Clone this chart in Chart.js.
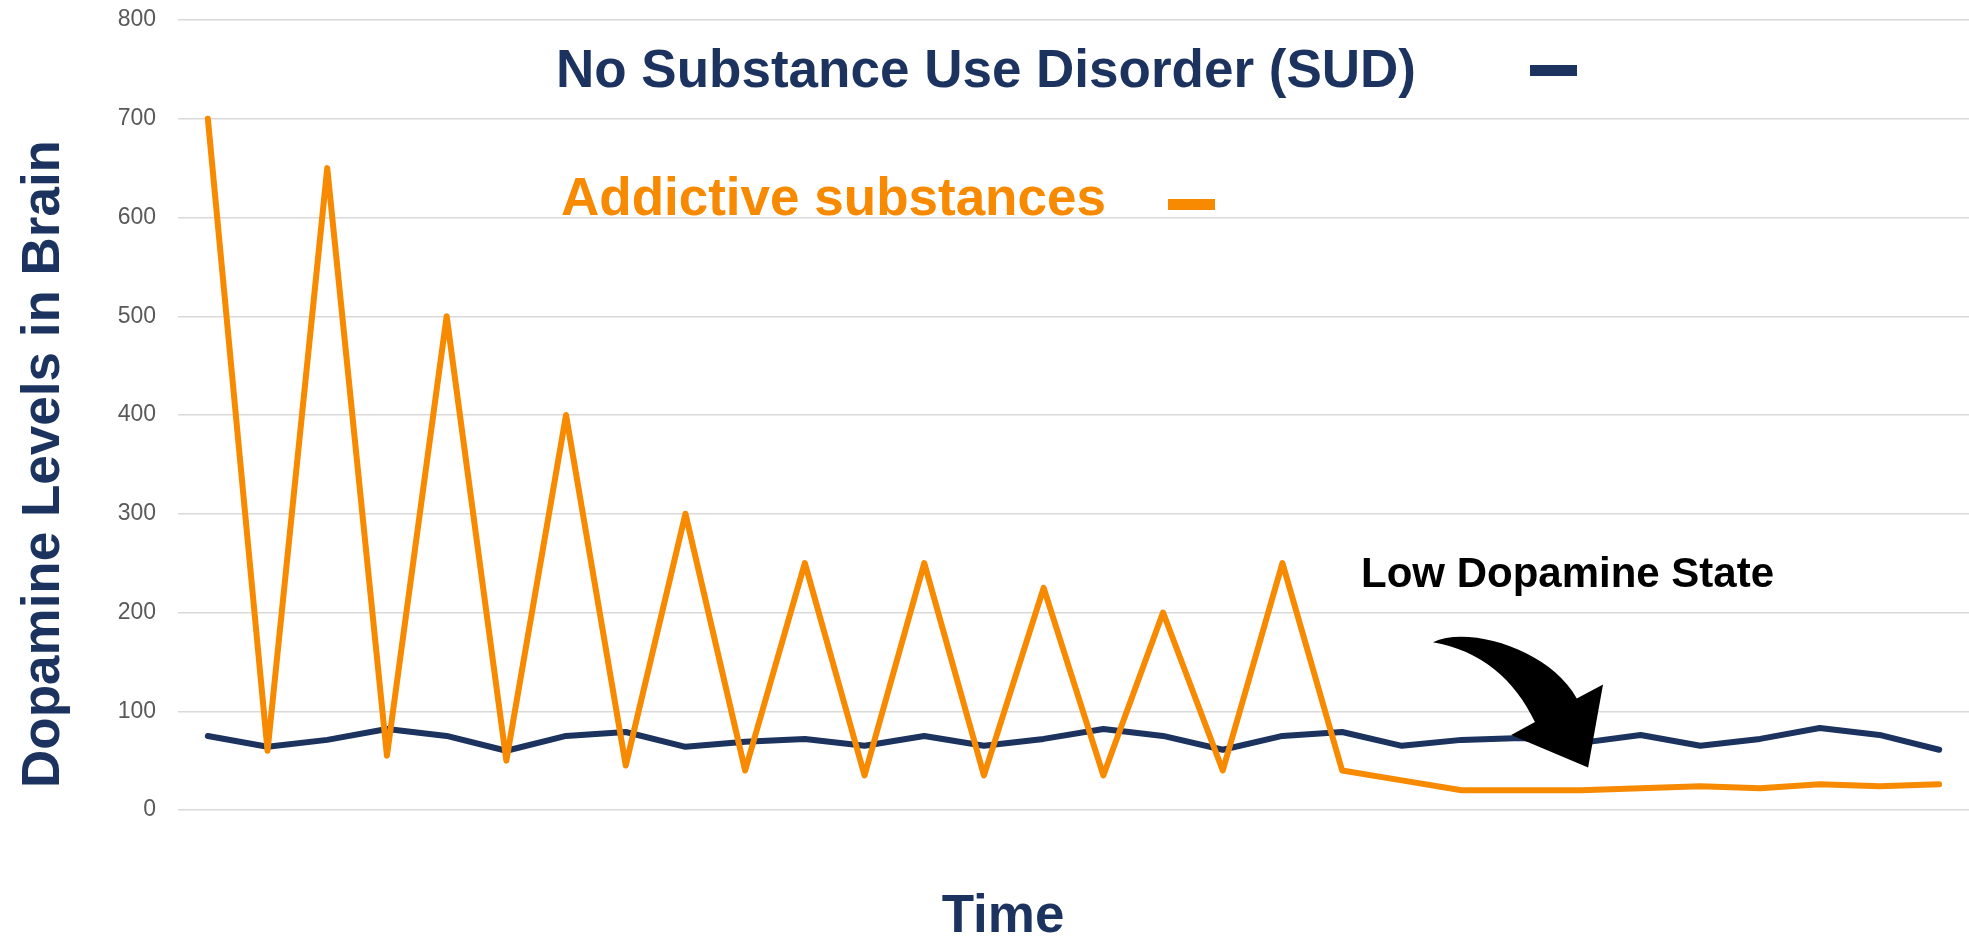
<!DOCTYPE html>
<html>
<head>
<meta charset="utf-8">
<title>Dopamine Levels in Brain</title>
<script src="https://cdn.jsdelivr.net/npm/chart.js@4.4.1/dist/chart.umd.min.js"></script>
<style>
  html, body { margin: 0; padding: 0; background: #fff; }
  #wrap { width: 1969px; height: 940px; }
</style>
</head>
<body>
<div id="wrap"><canvas id="chart" width="1969" height="940"></canvas></div>
<script>
// --- Data ---
const timeSteps = [1, 2, 3, 4, 5, 6, 7, 8, 9, 10, 11, 12, 13, 14, 15,
                   16, 17, 18, 19, 20, 21, 22, 23, 24, 25, 26, 27, 28, 29, 30];
const addictiveSubstances = [700, 60, 650, 55, 500, 50, 400, 45, 300, 40,
                             250, 35, 250, 35, 225, 35, 200, 40, 250, 40,
                             30, 20, 20, 20, 22, 24, 22, 26, 24, 26];
const noSUD = [75, 64, 71, 82, 75, 60, 75, 79, 64, 69,
               72, 65, 75, 65, 72, 82, 75, 61, 75, 79,
               65, 71, 73, 68, 76, 65, 72, 83, 76, 61];
const yTicks = [0, 100, 200, 300, 400, 500, 600, 700, 800];

// arrow outline in data units (time index, dopamine level)
const arrowTail = [20.52, 170];
const arrowOuter = [[21.14, 187], [22.48, 162], [22.93, 113]];
const arrowHead = [[23.37, 127], [23.12, 43], [21.83, 76], [22.23, 89]];
const arrowInner = [[21.90, 132], [21.31, 162]];

// --- Styles ---
const NAVY = '#1b335e';
const ORANGE = '#f78a00';
const FONT = '"Liberation Sans", Arial, sans-serif';

// Text labels, legend dashes and the curved arrow
const annotations = {
    id: 'annotations',
    afterDatasetsDraw(chart) {
        const { ctx, scales: { x, y } } = chart;
        const px = (p) => [x.getPixelForValue(p[0]), y.getPixelForValue(p[1])];

        ctx.save();

        // curved arrow
        ctx.fillStyle = '#000';
        ctx.beginPath();
        ctx.moveTo(...px(arrowTail));
        ctx.bezierCurveTo(...px(arrowOuter[0]), ...px(arrowOuter[1]), ...px(arrowOuter[2]));
        arrowHead.forEach(p => ctx.lineTo(...px(p)));
        ctx.bezierCurveTo(...px(arrowInner[0]), ...px(arrowInner[1]), ...px(arrowTail));
        ctx.closePath();
        ctx.fill();

        ctx.textBaseline = 'alphabetic';
        ctx.textAlign = 'left';

        // legend-like labels
        ctx.font = `bold 53px ${FONT}`;
        ctx.fillStyle = NAVY;
        ctx.fillText('No Substance Use Disorder (SUD)', 556, 87);
        ctx.fillRect(1530, 65, 47, 11);

        ctx.fillStyle = ORANGE;
        ctx.fillText('Addictive substances', 561, 215);
        ctx.fillRect(1168, 199, 47, 11);

        // note
        ctx.font = `bold 42px ${FONT}`;
        ctx.fillStyle = '#000';
        ctx.fillText('Low Dopamine State', 1361, 587);

        // axis titles
        ctx.font = `bold 53px ${FONT}`;
        ctx.fillStyle = NAVY;
        ctx.textAlign = 'center';
        ctx.fillText('Time', 1003, 932);

        ctx.translate(59, 464);
        ctx.rotate(-Math.PI / 2);
        ctx.fillText('Dopamine Levels in Brain', 0, 0);

        ctx.restore();
    }
};

new Chart(document.getElementById('chart'), {
    type: 'line',
    data: {
        labels: timeSteps,
        datasets: [{
            label: 'Addictive substances',
            data: addictiveSubstances,
            borderColor: ORANGE,
            borderWidth: 6,
            pointRadius: 0,
            borderJoinStyle: 'round',
            borderCapStyle: 'round',
            tension: 0
        }, {
            label: 'No Substance Use Disorder (SUD)',
            data: noSUD,
            borderColor: NAVY,
            borderWidth: 6,
            pointRadius: 0,
            borderJoinStyle: 'round',
            borderCapStyle: 'round',
            tension: 0
        }]
    },
    options: {
        responsive: false,
        animation: false,
        layout: { padding: { top: 20, right: 0, bottom: 0, left: 0 } },
        plugins: {
            legend: { display: false },
            tooltip: { enabled: false }
        },
        scales: {
            x: {
                offset: true,
                grid: { display: false },
                border: { display: false },
                ticks: { display: false },
                afterFit(scale) { scale.height = 130; }
            },
            y: {
                min: 0,
                max: 800,
                afterBuildTicks(scale) { scale.ticks = yTicks.map(v => ({ value: v })); },
                ticks: { padding: 22, color: '#595959', font: { family: FONT, size: 23 } },
                grid: { color: '#d9d9d9', lineWidth: 1.5, drawTicks: false },
                border: { display: false },
                afterFit(scale) {
                    scale.width = 178;
                    scale.paddingTop = 0;
                    scale.paddingBottom = 0;
                }
            }
        }
    },
    plugins: [annotations]
});
</script>
</body>
</html>
